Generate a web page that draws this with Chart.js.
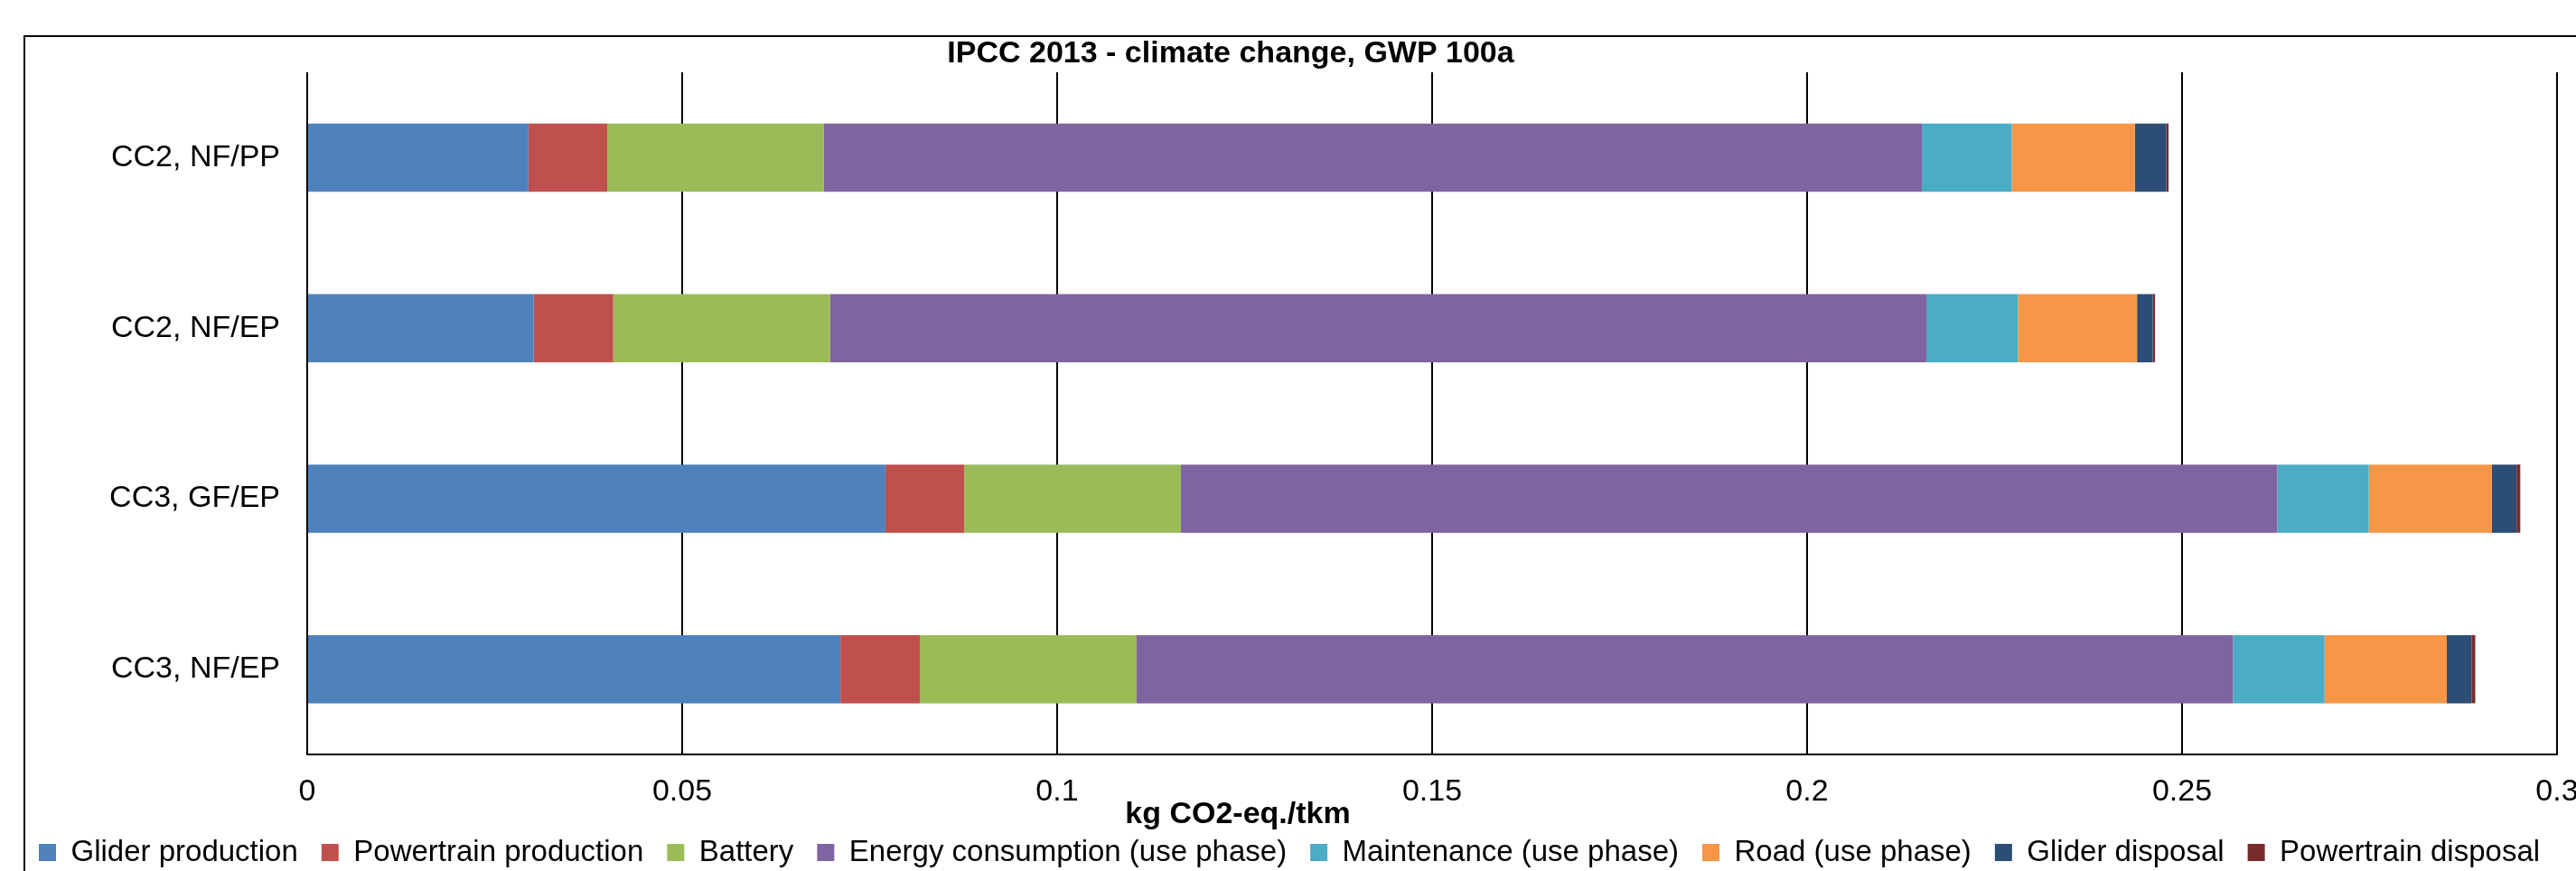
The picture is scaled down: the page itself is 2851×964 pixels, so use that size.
<!DOCTYPE html>
<html>
<head>
<meta charset="utf-8">
<script src="https://cdn.jsdelivr.net/npm/chart.js@4.4.1/dist/chart.umd.min.js"></script>
<style>
    body { margin: 0; background: #fff; overflow: hidden; }
    #wrap { position: relative; width: 2851px; height: 964px; overflow: hidden; }
    #frame {
        position: absolute; left: 26px; top: 39px; width: 4000px; height: 4000px;
        border-left: 2px solid #000; border-top: 2px solid #000; pointer-events: none;
    }
    canvas { position: absolute; left: 0; top: 0; }
</style>
</head>
<body>
<div id="wrap">
    <div id="frame"></div>
    <canvas id="chart" width="2851" height="964"></canvas>
</div>
<script>
var categories = ['CC2, NF/PP', 'CC2, NF/EP', 'CC3, GF/EP', 'CC3, NF/EP'];
var seriesNames = ['Glider production', 'Powertrain production', 'Battery', 'Energy consumption (use phase)',
    'Maintenance (use phase)', 'Road (use phase)', 'Glider disposal', 'Powertrain disposal'];

var gliderProduction = [0.0295, 0.0302, 0.0771, 0.0711];
var powertrainProduction = [0.0105, 0.0106, 0.0105, 0.0106];
var battery = [0.0289, 0.0289, 0.0289, 0.0289];
var energyConsumption = [0.1464, 0.1462, 0.1462, 0.1462];
var maintenance = [0.0120, 0.0122, 0.0122, 0.0122];
var road = [0.0164, 0.0159, 0.0164, 0.0163];
var gliderDisposal = [0.0042, 0.0021, 0.0033, 0.0033];
var powertrainDisposal = [0.0003, 0.0003, 0.0005, 0.0005];

var xTickLabels = ['0', '0.05', '0.1', '0.15', '0.2', '0.25', '0.3'];

var chartTitle = 'IPCC 2013 - climate change, GWP 100a';
var xAxisTitle = 'kg CO2-eq./tkm';

var colors = ['#4F81BD', '#C0504D', '#9BBB59', '#8064A2', '#4BACC6', '#F79646', '#2C4D75', '#772C2A'];
var values = [gliderProduction, powertrainProduction, battery, energyConsumption,
    maintenance, road, gliderDisposal, powertrainDisposal];

Chart.defaults.font.family = '"Liberation Sans", Arial, sans-serif';
Chart.defaults.color = '#000';

var datasets = [];
for (var i = 0; i < seriesNames.length; i++) {
    datasets.push({
        label: seriesNames[i],
        data: values[i],
        backgroundColor: colors[i],
        borderWidth: 0,
        categoryPercentage: 1,
        barPercentage: 0.4
    });
}

// titles sit off-centre in the original, so they are drawn by hand
var titles = {
    id: 'titles',
    afterDraw: function (chart) {
        var ctx = chart.ctx;
        ctx.save();
        ctx.fillStyle = '#000';
        ctx.textAlign = 'center';
        ctx.textBaseline = 'alphabetic';
        ctx.font = 'bold 34px "Liberation Sans", Arial, sans-serif';
        ctx.fillText(chartTitle, 1362, 69);
        ctx.fillText(xAxisTitle, 1370, 911);
        ctx.restore();
    }
};

var chart = new Chart(document.getElementById('chart').getContext('2d'), {
    type: 'bar',
    data: { labels: categories, datasets: datasets },
    plugins: [titles],
    options: {
        indexAxis: 'y',
        responsive: false,
        animation: false,
        layout: { padding: { left: 17, right: 0, top: 80, bottom: -6 } },
        plugins: {
            title: { display: false },
            tooltip: { enabled: false },
            legend: {
                position: 'bottom',
                align: 'start',
                labels: {
                    boxWidth: 19,
                    boxHeight: 19,
                    padding: 26,
                    font: { size: 33 }
                }
            }
        },
        scales: {
            x: {
                stacked: true,
                min: 0,
                max: 0.3,
                ticks: {
                    stepSize: 0.05,
                    padding: 21,
                    font: { size: 34 },
                    maxRotation: 0,
                    callback: function (value, index) { return xTickLabels[index]; }
                },
                grid: { color: '#000', lineWidth: 2, drawTicks: false },
                border: { display: true, color: '#000', width: 2 },
                afterFit: function (s) {
                    s.height = 66;
                    s.paddingLeft = 0;
                    s.paddingRight = 21;
                }
            },
            y: {
                stacked: true,
                ticks: { padding: 30, font: { size: 34 } },
                grid: { display: false, drawTicks: false },
                border: { display: false },
                afterFit: function (s) {
                    s.width = 323;
                }
            }
        }
    }
});
</script>
</body>
</html>
